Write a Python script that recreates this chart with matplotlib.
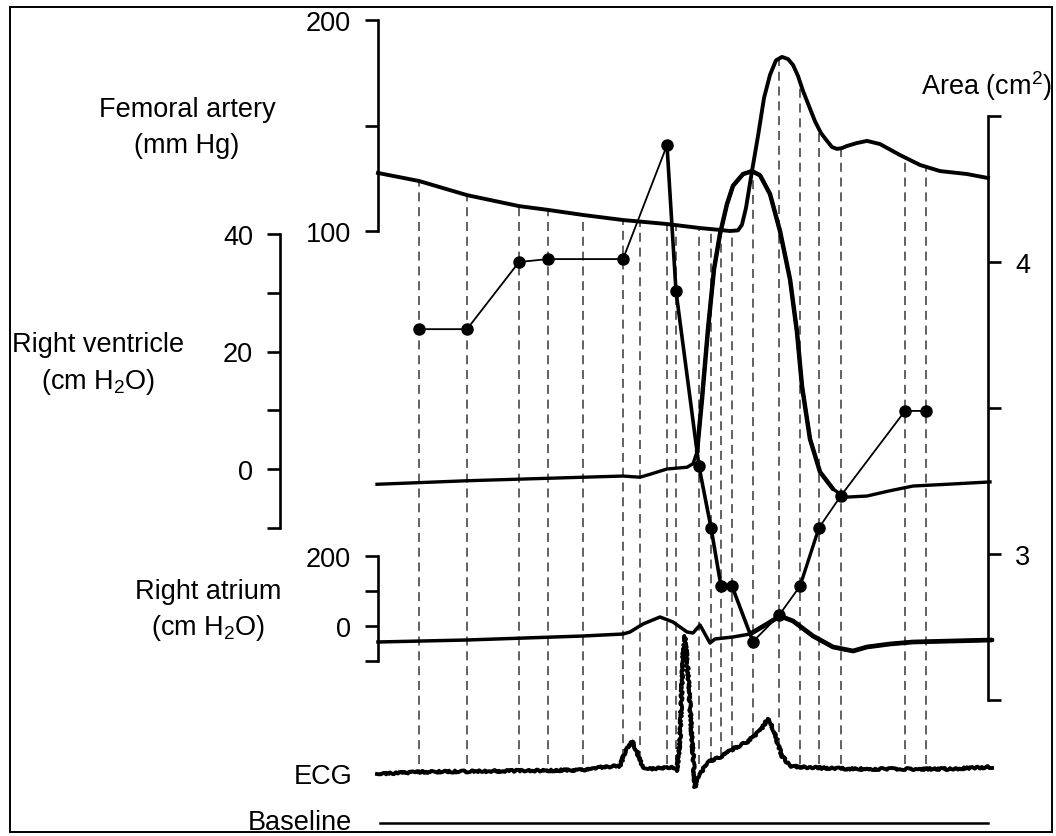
import numpy as np
import matplotlib.pyplot as plt

plt.rcParams['font.family'] = ['Liberation Sans', 'DejaVu Sans']
plt.rcParams['mathtext.default'] = 'regular'

W, H = 1056, 837
T0 = 378          # pixel column of time zero

# time in ms from the start of the record
fem_t = [0, 41, 89, 141, 170, 205, 245, 289, 322, 342, 352, 360, 364, 368, 374, 380, 386, 392,
         398, 404, 410, 415, 420, 425, 431, 437, 443, 449, 454, 459, 464, 469, 479, 489, 502,
         522, 542, 562, 589, 610]
fem_p = [127.5, 123.7, 117, 111.8, 110, 107.6, 105.2, 103.3, 101.4, 100.5, 100, 100.3, 103, 111,
         128.4, 145, 163, 174, 180.9, 182.5, 181.5, 178.7, 173.5, 166.4, 159.2, 152, 146.4, 142.7,
         139.8, 138.9, 139.3, 140.3, 141.7, 142.7, 141.2, 136, 131.3, 128.4, 127, 125.1]

rv_t = [-1, 89, 205, 245, 262, 272, 289, 309, 315, 319, 324, 330, 336, 342, 349, 355, 365, 374,
        382, 392, 402, 412, 419, 424, 432, 442, 455, 467, 489, 512, 535, 569, 612]
rv_p = [-2.6, -2.0, -1.4, -1.2, -1.4, -0.9, 0.0, 0.3, 0.9, 2.9, 11.9, 23.8, 34.0, 40.0, 45.1,
        48.2, 50.2, 50.7, 50.0, 46.8, 40.5, 32.3, 23.3, 14.1, 5.1, -0.5, -3.4, -4.8, -4.6, -3.7,
        -2.9, -2.6, -2.2]

ra_t = [0, 89, 205, 245, 252, 265, 282, 295, 309, 315, 322, 327, 332, 337, 355, 372, 389, 402,
        415, 435, 455, 475, 489, 512, 535, 614]
ra_p = [-45.7, -40, -28.6, -22.9, -17.1, 5.7, 25.7, 11.4, -17.1, -20, 2.9, -22.9, -48.6, -37.1,
        -31.4, -22.9, 5.7, 28.6, 14.3, -28.6, -60, -71.4, -60, -51.4, -45.7, -40]

ecg_t = [-1, 42, 122, 205, 225, 242, 247, 254, 259, 264, 269, 295, 299, 302, 305, 307, 310, 314,
         317, 320, 325, 332, 342, 355, 369, 382, 390, 395, 404, 412, 422, 472, 522, 572, 614]
ecg_mv = [-0.05, -0.03, -0.02, -0.01, 0.02, 0.03, 0.17, 0.28, 0.17, 0.03, 0.0, 0.02, -0.02, 0.3,
          1.13, 1.33, 0.97, 0.3, -0.18, -0.1, 0.0, 0.08, 0.12, 0.2, 0.27, 0.38, 0.5, 0.4, 0.13,
          0.03, 0.02, 0.0, 0.0, 0.0, 0.02]

area_t = [41, 89, 141, 170, 245, 289, 298, 321, 333, 343, 354, 375, 401, 422, 441, 463, 527, 548]
area_cm2 = [3.77, 3.77, 4.00, 4.01, 4.01, 4.40, 3.90, 3.30, 3.09, 2.89, 2.89, 2.70, 2.79, 2.89,
            3.09, 3.20, 3.49, 3.49]

marker_t = [41, 89, 141, 170, 205, 245, 262, 289, 298, 321, 333, 343, 354, 375, 401, 422, 441,
            463, 527, 548]
baseline_mv = -0.54


def lims(v1, y1, v2, y2):
    # value v1 sits on pixel row y1, v2 on row y2 -> ylim of a full-figure axes
    k = (v2 - v1) / (y2 - y1)
    return v1 + (H - y1) * k, v1 - y1 * k


fig = plt.figure(figsize=(W / 100, H / 100), dpi=100)


def layer(ylim):
    ax = fig.add_axes([0, 0, 1, 1])
    ax.set_xlim(-T0, W - T0)
    ax.set_ylim(*ylim)
    ax.patch.set_visible(False)
    for s in ax.spines.values():
        s.set_visible(False)
    ax.xaxis.set_visible(False)
    ax.set_yticks([])
    return ax


def scale(ax, where, bounds, ticks, labels, side='left'):
    sp = ax.spines[side]
    sp.set_visible(True)
    sp.set_position(('data', where))
    sp.set_bounds(*bounds)
    sp.set_linewidth(1.9)
    ax.set_yticks(ticks)
    ax.set_yticklabels(labels)
    left = side == 'left'
    ax.tick_params(axis='y', direction='out', length=9.5, width=1.9, pad=10, labelsize=19.5,
                   left=left, labelleft=left, right=not left, labelright=not left)


base = layer((0, 1))
ax_fem = layer(lims(200, 21, 100, 232))
ax_rv = layer(lims(40, 235, 0, 470))
ax_ra = layer(lims(200, 557, 0, 627))
ax_area = layer(lims(4, 263, 3, 555))
ax_ecg = layer(lims(1, 670, 0, 770))

scale(ax_fem, 0, (100, 200), [100, 150, 200], ['100', '', '200'])
scale(ax_rv, -98, (-10, 40), [-10, 0, 10, 20, 30, 40], ['', '0', '', '20', '', '40'])
scale(ax_ra, 0, (-100, 200), [-100, 0, 100, 200], ['', '0', '', '200'])
scale(ax_area, 610, (2.5, 4.5), [2.5, 3, 3.5, 4, 4.5], ['', '3', '', '4', ''], side='right')


def frac(ax, v):
    lo, hi = ax.get_ylim()
    return (np.asarray(v) - lo) / (hi - lo)


# dashed markers from the femoral trace down to the ECG
top = frac(ax_fem, np.interp(marker_t, fem_t, fem_p))
bot = frac(ax_ecg, np.maximum(np.interp(marker_t, ecg_t, ecg_mv), 0.05))
base.vlines(marker_t, bot, top, colors='#555555', linewidth=1.3, linestyles=(0, (5, 3.2)))

ax_fem.plot(fem_t, fem_p, color='black', lw=2.8, clip_on=False, solid_joinstyle='round')
ax_rv.plot(rv_t, rv_p, color='black', lw=2.4, clip_on=False)
ax_rv.plot(rv_t[9:27], rv_p[9:27], color='black', lw=3.2, clip_on=False, solid_capstyle='round')
ax_ra.plot(ra_t, ra_p, color='black', lw=2.5, clip_on=False)
ax_ra.plot(ra_t[15:], ra_p[15:], color='black', lw=3.4, clip_on=False, solid_capstyle='round')
ax_area.plot(area_t, area_cm2, color='black', lw=1.3, marker='o', ms=8, clip_on=False)
ax_area.plot(area_t[5:12], area_cm2[5:12], color='black', lw=2.6, clip_on=False)
ax_area.plot(area_t[13:15], area_cm2[13:15], color='black', lw=2.4, clip_on=False)
ecg_line, = ax_ecg.plot(ecg_t, ecg_mv, color='black', lw=2.8, clip_on=False)
ecg_line.set_sketch_params(1.0, 4, 8)
ax_ecg.plot([2, 610], [baseline_mv, baseline_mv], color='black', lw=1.8, clip_on=False)

fs = 19.5
fig.text(187 / W, 1 - 110 / H, 'Femoral artery', ha='center', va='center', fontsize=fs)
fig.text(187 / W, 1 - 146 / H, '(mm Hg)', ha='center', va='center', fontsize=fs)
fig.text(98 / W, 1 - 345 / H, 'Right ventricle', ha='center', va='center', fontsize=fs)
fig.text(98 / W, 1 - 382 / H, '(cm H$_2$O)', ha='center', va='center', fontsize=fs)
fig.text(208 / W, 1 - 592 / H, 'Right atrium', ha='center', va='center', fontsize=fs)
fig.text(208 / W, 1 - 628 / H, '(cm H$_2$O)', ha='center', va='center', fontsize=fs)
fig.text(352 / W, 1 - 777 / H, 'ECG', ha='right', va='center', fontsize=fs)
fig.text(352 / W, 1 - 823 / H, 'Baseline', ha='right', va='center', fontsize=fs)
fig.text(921 / W, 1 - 86 / H, 'Area (cm$^2$)', ha='left', va='center', fontsize=fs)

fig.add_artist(plt.Rectangle((10 / W, 4 / H), 1042 / W, 825 / H, transform=fig.transFigure,
                             fill=False, edgecolor='black', lw=1.4))

fig.savefig('out.png', dpi=100)
